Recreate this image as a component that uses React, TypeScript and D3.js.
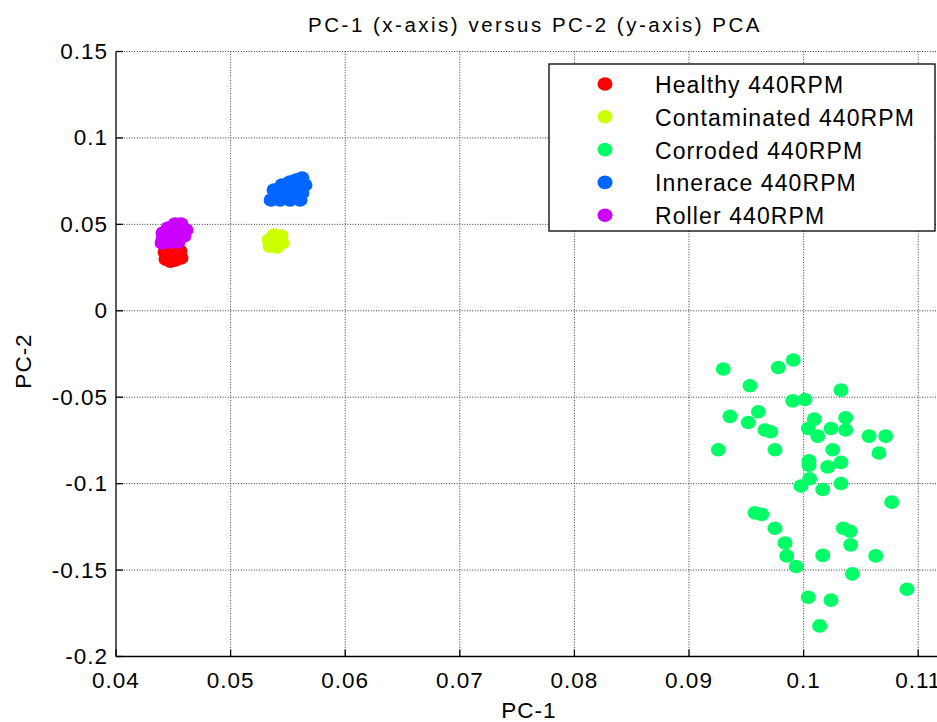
import React from "react";
import * as d3 from "d3";

// PCA scores (PC-1, PC-2) for each bearing condition at 440 RPM
const healthyPC1 = [0.04428, 0.04489, 0.04558, 0.04567, 0.04515, 0.04436, 0.04497, 0.04474];
const healthyPC2 = [0.03397, 0.03513, 0.03455, 0.0305, 0.02934, 0.02992, 0.03223, 0.0287];

const contaminatedPC1 = [0.05335, 0.05379, 0.0544, 0.05449, 0.05405, 0.05344, 0.05396];
const contaminatedPC2 = [0.04091, 0.04381, 0.04323, 0.03918, 0.03687, 0.03744, 0.04033];

const corrodedPC1 = [
  0.09299, 0.09779, 0.0991, 0.09532, 0.10326, 0.09905, 0.10012, 0.09358, 0.09605, 0.09517,
  0.10093, 0.10367, 0.09663, 0.09713, 0.10041, 0.10239, 0.10367, 0.10123, 0.10571, 0.10716,
  0.10658, 0.09256, 0.0975, 0.10254, 0.10047, 0.10047, 0.10326, 0.1021, 0.10053, 0.09977,
  0.10167, 0.10326, 0.10769, 0.09576, 0.09634, 0.0975, 0.10346, 0.10405, 0.09838, 0.10411,
  0.09853, 0.10167, 0.10629, 0.09936, 0.10425, 0.10902, 0.10041, 0.10239, 0.1014,
];
const corrodedPC2 = [
  -0.0337, -0.0328, -0.0285, -0.0434, -0.0459, -0.0521, -0.0513, -0.0611, -0.0584, -0.0646,
  -0.0627, -0.0619, -0.069, -0.07, -0.0681, -0.0681, -0.069, -0.0725, -0.0725, -0.0725,
  -0.0823, -0.0804, -0.0804, -0.0804, -0.0868, -0.0893, -0.0877, -0.0903, -0.0972, -0.1014,
  -0.1034, -0.0999, -0.1107, -0.1169, -0.1178, -0.1258, -0.1258, -0.1275, -0.1343, -0.1354,
  -0.1418, -0.1415, -0.1418, -0.1479, -0.1522, -0.1611, -0.1657, -0.1674, -0.1823,
];

const inneracePC1 = [
  0.05353, 0.05431, 0.05518, 0.05606, 0.05379, 0.05449, 0.05518, 0.05571, 0.05623, 0.05649,
  0.05483, 0.05571, 0.05623,
];
const inneracePC2 = [
  0.06406, 0.06406, 0.06406, 0.06406, 0.06985, 0.07274, 0.07448, 0.07564, 0.0768, 0.07274,
  0.06869, 0.06985, 0.06811,
];

const rollerPC1 = [
  0.0441, 0.0441, 0.04454, 0.04515, 0.04567, 0.04611, 0.04593, 0.04524, 0.04471, 0.04541,
  0.04462, 0.04532, 0.04402,
];
const rollerPC2 = [
  0.04149, 0.04497, 0.04786, 0.05017, 0.05017, 0.0467, 0.04323, 0.04207, 0.03976, 0.03976,
  0.04439, 0.04612, 0.0392,
];

const seriesNames = [
  "Healthy 440RPM",
  "Contaminated 440RPM",
  "Corroded 440RPM",
  "Innerace 440RPM",
  "Roller 440RPM",
];
const seriesColors = ["#ff0000", "#ccff00", "#00ff66", "#0066ff", "#cc00ff"];
const seriesX = [healthyPC1, contaminatedPC1, corrodedPC1, inneracePC1, rollerPC1];
const seriesY = [healthyPC2, contaminatedPC2, corrodedPC2, inneracePC2, rollerPC2];

const xTicks = [0.04, 0.05, 0.06, 0.07, 0.08, 0.09, 0.1, 0.11];
const xTickLabels = ["0.04", "0.05", "0.06", "0.07", "0.08", "0.09", "0.1", "0.11"];
const yTicks = [0.15, 0.1, 0.05, 0, -0.05, -0.1, -0.15, -0.2];
const yTickLabels = ["0.15", "0.1", "0.05", "0", "-0.05", "-0.1", "-0.15", "-0.2"];

const W = 937;
const H = 722;
const left = 116;
const right = 944;
const top = 51.5;
const bottom = 656.5;

const FONT = "'Liberation Sans', Arial, sans-serif";

export default function App() {
  const x = d3.scaleLinear().domain([0.04, 0.11225]).range([left, right]);
  const y = d3.scaleLinear().domain([-0.2, 0.15]).range([bottom, top]);

  const tickLen = 7;
  const rx = 7.5;
  const ry = 6.8;

  const legendX = 549;
  const legendY = 64;
  const legendW = 386;
  const legendH = 167;
  const legendRow = 32.8;

  return (
    <svg
      width={W}
      height={H}
      style={{ position: "absolute", left: 0, top: 0, background: "#fff" }}
      fontFamily={FONT}
    >
      <rect x={0} y={0} width={W} height={H} fill="#fff" />

      {/* dotted grid */}
      <g stroke="#3a3a3a" strokeWidth={1} strokeDasharray="1 1.6" fill="none">
        {xTicks.slice(1).map((t) => (
          <line key={"gx" + t} x1={x(t)} x2={x(t)} y1={top} y2={bottom} />
        ))}
        {yTicks.slice(0, -1).map((t) => (
          <line key={"gy" + t} x1={left} x2={right} y1={y(t)} y2={y(t)} />
        ))}
      </g>

      {/* axes and inward ticks */}
      <g stroke="#000" strokeWidth={1.3} fill="none">
        <line x1={left} x2={left} y1={top} y2={bottom} />
        <line x1={left} x2={right} y1={bottom} y2={bottom} />
        {xTicks.map((t) => (
          <line key={"tx" + t} x1={x(t)} x2={x(t)} y1={bottom} y2={bottom - tickLen} />
        ))}
        {yTicks.map((t) => (
          <line key={"ty" + t} x1={left} x2={left + tickLen} y1={y(t)} y2={y(t)} />
        ))}
      </g>

      {/* tick labels */}
      <g fontSize={22.5} fill="#000" letterSpacing={1}>
        {xTicks.map((t, i) => (
          <text key={"lx" + t} x={x(t)} y={688} textAnchor="middle">
            {xTickLabels[i]}
          </text>
        ))}
        {yTicks.map((t, i) => (
          <text key={"ly" + t} x={108} y={y(t)} textAnchor="end" dominantBaseline="central">
            {yTickLabels[i]}
          </text>
        ))}
      </g>

      {/* data */}
      {seriesX.map((xs, si) => (
        <g key={"s" + si} fill={seriesColors[si]}>
          {xs.map((v, i) => (
            <ellipse key={i} cx={x(v)} cy={y(seriesY[si][i])} rx={rx} ry={ry} />
          ))}
        </g>
      ))}

      {/* title and axis labels */}
      <text x={535} y={32} textAnchor="middle" fontSize={20.5} letterSpacing={2.5}>
        PC-1 (x-axis) versus PC-2 (y-axis) PCA
      </text>
      <text x={529} y={718} textAnchor="middle" fontSize={22.5} letterSpacing={1}>
        PC-1
      </text>
      <text
        transform={`translate(31,361) rotate(-90)`}
        textAnchor="middle"
        fontSize={22.5}
        letterSpacing={1}
      >
        PC-2
      </text>

      {/* legend */}
      <rect
        x={legendX}
        y={legendY}
        width={legendW}
        height={legendH}
        fill="#fff"
        stroke="#000"
        strokeWidth={1.3}
      />
      {seriesNames.map((name, i) => (
        <g key={"lg" + i}>
          <ellipse cx={605} cy={84 + i * legendRow} rx={rx} ry={ry} fill={seriesColors[i]} />
          <text
            x={655}
            y={85 + i * legendRow}
            fontSize={23}
            letterSpacing={1.1}
            dominantBaseline="central"
          >
            {name}
          </text>
        </g>
      ))}
    </svg>
  );
}
